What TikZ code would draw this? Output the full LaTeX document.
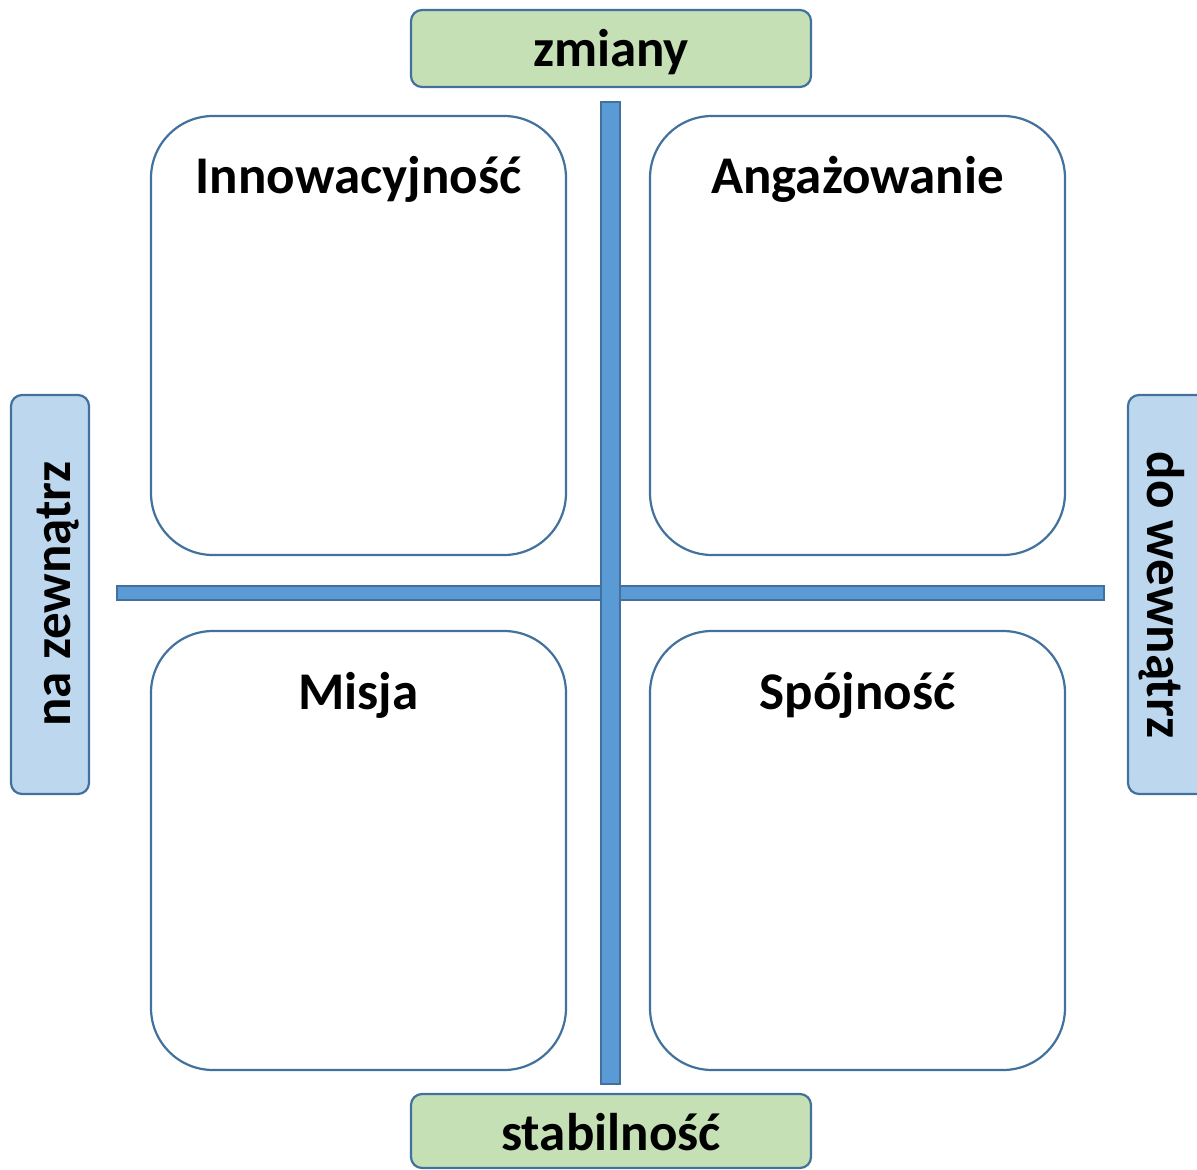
\documentclass[tikz,border=0pt]{standalone}
\usepackage{fontspec}
\setmainfont{Carlito}
\definecolor{bordc}{HTML}{41719C}
\definecolor{greenf}{HTML}{C5E0B4}
\definecolor{bluef}{HTML}{BDD7EE}
\definecolor{barf}{HTML}{5B9BD5}
\begin{document}
\begin{tikzpicture}[x=1pt,y=-1pt,
  quad/.style={draw=bordc, line width=2.2pt, fill=white, rounded corners=62pt, minimum width=415pt, minimum height=439pt, inner sep=0pt},
  tag/.style={draw=bordc, line width=2.2pt, rounded corners=11pt, inner sep=0pt},
  ttl/.style={font=\fontsize{53}{63}\selectfont\bfseries, anchor=base, inner sep=0pt},
  barst/.style={draw=bordc, line width=2.2pt, fill=barf}]
\useasboundingbox (0,0) rectangle (1197,1170);
\clip (0,0) rectangle (1197,1170);
% quadrant boxes
\node[quad] (q1) at (358.5,335.5) {};
\node[quad] (q2) at (857.5,335.5) {};
\node[quad] (q3) at (358.5,850.5) {};
\node[quad] (q4) at (857.5,850.5) {};
\node[ttl] (t1) at (358.5,193) {Innowacyjność};
\node[ttl] (t2) at (857.5,193) {Angażowanie};
\node[ttl] (t3) at (358.5,709) {Misja};
\node[ttl] (t4) at (857.5,709) {Spójność};
% axes
\draw[barst] (117,586) rectangle (1104,600);
\draw[barst] (601,102) rectangle (620,1084);
\fill[barf] (602.2,587.2) rectangle (618.8,598.8);
% tags
\node[tag, fill=greenf, minimum width=400pt, minimum height=77pt] (top) at (611,48.5) {};
\node[ttl] (ttop) at (611,66) {zmiany};
\node[tag, fill=greenf, minimum width=400pt, minimum height=74pt] (bot) at (611,1131) {};
\node[ttl] (tbot) at (611,1150) {stabilność};
\node[tag, fill=bluef, minimum width=78pt, minimum height=399pt] (left) at (50,594.5) {};
\node[ttl, rotate=90] (tleft) at (70,594) {na zewnątrz};
\node[tag, fill=bluef, minimum width=80pt, minimum height=399pt] (right) at (1168,594.5) {};
\node[ttl, rotate=-90] (tright) at (1147,595) {do wewnątrz};
\end{tikzpicture}
\end{document}
